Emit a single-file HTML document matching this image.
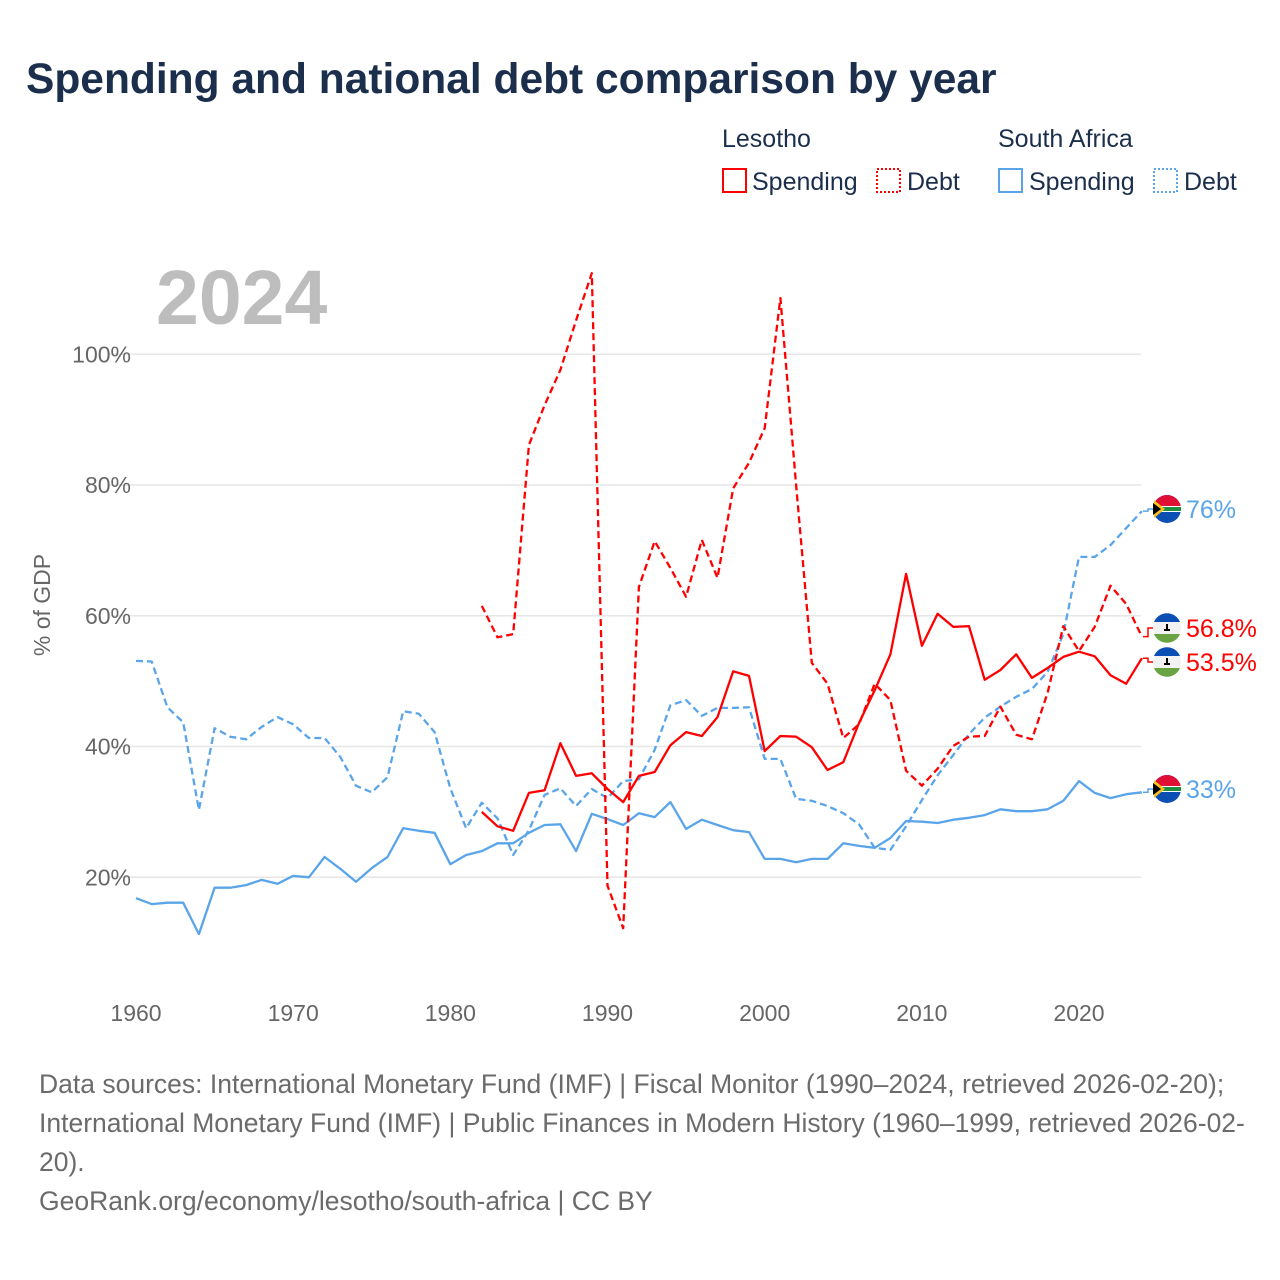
<!DOCTYPE html>
<html><head><meta charset="utf-8"><style>
body{margin:0;background:#fff;font-family:"Liberation Sans",sans-serif;}
#wrap{position:relative;width:1280px;height:1280px;overflow:hidden;}
</style></head><body>
<div id="wrap">
<svg id="chart" width="1280" height="1280" xmlns="http://www.w3.org/2000/svg">
<text x="26" y="93" font-size="42.5" font-weight="bold" fill="#1b2f4d" font-family="Liberation Sans, sans-serif">Spending and national debt comparison by year</text>
<g font-size="25" fill="#1b2f4d">
<text x="722" y="147">Lesotho</text>
<text x="998" y="147">South Africa</text>
<g><rect x="723" y="169" width="23" height="23" fill="none" stroke="#ff0000" stroke-width="2"/><text x="752" y="190">Spending</text></g>
<g><rect x="877" y="169" width="23" height="23" fill="none" stroke="#ff0000" stroke-width="2" stroke-dasharray="2,2"/><text x="907" y="190">Debt</text></g>
<g><rect x="999" y="169" width="23" height="23" fill="none" stroke="#5aa5ea" stroke-width="2"/><text x="1029" y="190">Spending</text></g>
<g><rect x="1154" y="169" width="23" height="23" fill="none" stroke="#5aa5ea" stroke-width="2" stroke-dasharray="2,2"/><text x="1184" y="190">Debt</text></g>
</g>
<text x="156" y="324" font-size="77" font-weight="bold" fill="#bdbdbd">2024</text>
<text transform="translate(50,605) rotate(-90)" text-anchor="middle" font-size="23" fill="#666">% of GDP</text>
<g id="grid"></g><g id="series"></g><g id="labels"></g>
<g font-size="26.5" fill="#6b6b6b">
<text x="39" y="1093">Data sources: International Monetary Fund (IMF) | Fiscal Monitor (1990–2024, retrieved 2026-02-20);</text>
<text x="39" y="1132">International Monetary Fund (IMF) | Public Finances in Modern History (1960–1999, retrieved 2026-02-</text>
<text x="39" y="1171">20).</text>
<text x="39" y="1210">GeoRank.org/economy/lesotho/south-africa | CC BY</text>
</g>
</svg>
</div>
<script>
const saDebt=[53.1,53,46,43.7,30.3,42.8,41.5,41.1,43,44.5,43.4,41.3,41.3,38.4,34,33,35.3,45.4,45,42.2,33.6,27.5,31.4,29,23.4,27.2,32.6,33.6,30.9,33.5,32.1,34.7,35,39.5,46.3,47.1,44.7,45.9,45.9,46,38.1,38.1,32,31.7,30.9,29.8,28.1,24.5,24.2,27.8,31.8,35.6,38.7,41.9,44.4,46.1,47.6,48.8,51.4,57.2,69,69,70.8,73.4,76];
const saSpend=[16.8,15.9,16.1,16.1,11.3,18.4,18.4,18.8,19.6,19,20.2,20,23.1,21.3,19.3,21.4,23.1,27.5,27.1,26.8,22,23.4,24,25.2,25.2,26.8,28,28.1,24,29.7,28.9,28,29.8,29.2,31.5,27.4,28.8,28,27.2,26.9,22.8,22.8,22.3,22.8,22.8,25.2,24.8,24.5,26,28.6,28.5,28.3,28.8,29.1,29.5,30.4,30.1,30.1,30.4,31.7,34.7,32.9,32.1,32.7,33];
const lsDebt=[61.5,56.7,57.2,86.1,92.2,97.6,105.2,112.4,18.7,12.2,64.4,71.4,67.3,62.9,71.6,65.8,79.5,83.4,88.7,108.6,80,52.8,49.6,41.3,43.4,49.6,47.1,36.3,34,36.6,40.1,41.5,41.6,46.1,41.8,41.1,48.2,58.4,54.6,58.3,64.6,61.8,56.8];
const lsSpend=[30,27.8,27.1,32.9,33.3,40.5,35.5,35.9,33.5,31.5,35.5,36.1,40.2,42.2,41.6,44.5,51.5,50.8,39.3,41.6,41.5,39.9,36.4,37.6,43.6,48.6,54.1,66.4,55.4,60.3,58.3,58.4,50.2,51.7,54.1,50.5,52,53.7,54.5,53.8,50.9,49.6,53.5];
const yTicks=[20,40,60,80,100];
const xTicks=[1960,1970,1980,1990,2000,2010,2020];
const NS='http://www.w3.org/2000/svg';
const x=yr=>136+(yr-1960)*15.717;
const y=v=>1008-v*6.5375;
function mk(t,a,p){const e=document.createElementNS(NS,t);for(const k in a)e.setAttribute(k,a[k]);p.appendChild(e);return e;}
const grid=document.getElementById('grid');
yTicks.forEach(v=>{
 const l=mk('line',{x1:110,x2:1141,y1:y(v),y2:y(v),stroke:'#e6e6e6','stroke-width':1.5},grid);
 
 
 const t=mk('text',{x:131,y:y(v)+8,'text-anchor':'end','font-size':23,fill:'#666'},grid);
 t.textContent=v+'%';
 
 
});
xTicks.forEach(yr=>{
 const t=mk('text',{x:x(yr),y:1021,'text-anchor':'middle','font-size':23,fill:'#666'},grid);
 t.textContent=yr;
 
 
});
const S=document.getElementById('series');
function line(arr,start,color,dash,name){
 const pts=arr.map((v,i)=>x(start+i).toFixed(1)+','+y(v).toFixed(1)).join(' ');
 const p=mk('polyline',{points:pts,fill:'none',stroke:color,'stroke-width':2.3,'stroke-linejoin':'round'},S);
 if(dash)p.setAttribute('stroke-dasharray','7,4');
 
 
}
line(saDebt,1960,'#5aa5ea',true,'sa-debt-line');
line(saSpend,1960,'#5aa5ea',false,'sa-spending-line');
line(lsDebt,1982,'#ff0000',true,'lesotho-debt-line');
line(lsSpend,1982,'#ff0000',false,'lesotho-spending-line');
const L=document.getElementById('labels');
function saFlag(cx,cy,g){
 mk('circle',{cx,cy,r:14,fill:'#0b4fb5'},g);
 mk('path',{d:`M${cx-14},${cy} A14,14 0 0 1 ${cx+14},${cy} Z`,fill:'#de0e35'},g);
 mk('rect',{x:cx-14,y:cy-3,width:28,height:6,fill:'#fff'},g);
 mk('rect',{x:cx-14,y:cy-2,width:28,height:4,fill:'#1e8f3e'},g);
 mk('path',{d:`M${cx-13},${cy-9} L${cx-2},${cy} L${cx-13},${cy+9} Z`,fill:'#f9c21c'},g);
 mk('path',{d:`M${cx-14},${cy-6} L${cx-6},${cy} L${cx-14},${cy+6} Z`,fill:'#000'},g);
}
function lsFlag(cx,cy,g){
 mk('circle',{cx,cy,r:14,fill:'#f2f2f2'},g);
 mk('path',{d:`M${cx-13},${cy-6} A14,14 0 0 1 ${cx+13},${cy-6} Z`,fill:'#0b4fb5'},g);
 mk('path',{d:`M${cx-13},${cy+6} A14,14 0 0 0 ${cx+13},${cy+6} Z`,fill:'#6aa344'},g);
 mk('path',{d:`M${cx},${cy-4} L${cx},${cy+1} M${cx-3},${cy+2} L${cx+3},${cy+2}`,stroke:'#000','stroke-width':2},g);
}
const endLabels=[
 {v:saDebt[saDebt.length-1],ly:509,txt:'76%',c:'#5aa5ea',f:saFlag,n:'end-label-sa-debt'},
 {v:lsDebt[lsDebt.length-1],ly:628,txt:'56.8%',c:'#ff0000',f:lsFlag,n:'end-label-lesotho-debt'},
 {v:lsSpend[lsSpend.length-1],ly:662,txt:'53.5%',c:'#ff0000',f:lsFlag,n:'end-label-lesotho-spending'},
 {v:saSpend[saSpend.length-1],ly:789,txt:'33%',c:'#5aa5ea',f:saFlag,n:'end-label-sa-spending'}];
endLabels.forEach(o=>{
 const g=mk('g',{},L);
 
 
 mk('path',{d:`M1143,${y(o.v)} L1148,${y(o.v)} L1148,${o.ly} L1153,${o.ly}`,fill:'none',stroke:o.c,'stroke-width':1.5},g);
 o.f(1167,o.ly,g);
 const t=mk('text',{x:1186,y:o.ly+9,'font-size':25,fill:o.c},g);
 t.textContent=o.txt;
});
</script>
</body></html>
